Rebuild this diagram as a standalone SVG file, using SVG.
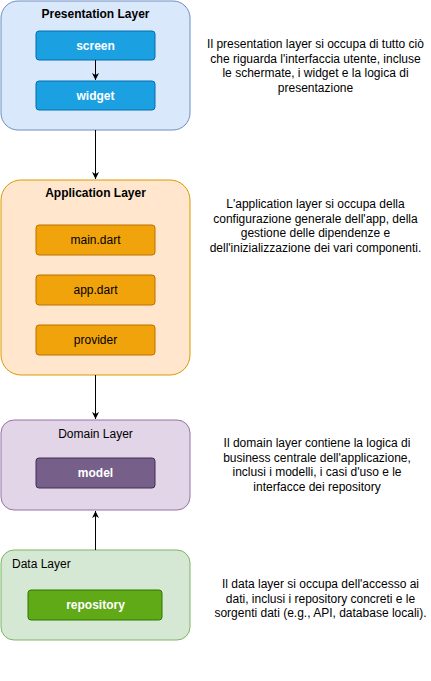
<svg xmlns="http://www.w3.org/2000/svg" width="431" height="681" viewBox="0 0 431 681">
<defs>
<marker id="arr" markerWidth="8" markerHeight="8" refX="7" refY="4" orient="auto" markerUnits="userSpaceOnUse">
<path d="M0,0.5 L7,4 L0,7.5 L2,4 Z" fill="#000"/>
</marker>
</defs>
<style>
text{font-family:"Liberation Sans",Arial,sans-serif;font-size:12px;fill:#000}
.b{font-weight:bold}
.w{fill:#fff;font-weight:bold}
.c{text-anchor:middle}
.conn line{stroke:#000;stroke-width:1;marker-end:url(#arr)}
</style>
<rect width="431" height="681" fill="#fff"/>
<g id="presentation">
<rect x="1" y="1" width="189" height="129" rx="17" fill="#dae8fc" stroke="#6c8ebf"/>
<text x="95.5" y="18" class="b c">Presentation Layer</text>
</g>
<g id="screen">
<rect x="36" y="31" width="119" height="29" rx="3" fill="#1ba1e2" stroke="#006eaf"/>
<text x="95.5" y="49.5" class="w c">screen</text>
</g>
<g id="widget">
<rect x="36" y="81" width="119" height="29" rx="3" fill="#1ba1e2" stroke="#006eaf"/>
<text x="95.5" y="99.5" class="w c">widget</text>
</g>
<g id="application">
<rect x="1" y="180" width="189" height="195" rx="20" fill="#ffe6cc" stroke="#d79b00"/>
<text x="95.5" y="197" class="b c">Application Layer</text>
</g>
<g id="main">
<rect x="36" y="225" width="119" height="30" rx="3" fill="#f0a30a" stroke="#bd7000"/>
<text x="95.5" y="244" class="c">main.dart</text>
</g>
<g id="app">
<rect x="36" y="275" width="119" height="30" rx="3" fill="#f0a30a" stroke="#bd7000"/>
<text x="95.5" y="294" class="c">app.dart</text>
</g>
<g id="provider">
<rect x="36" y="325" width="119" height="30" rx="3" fill="#f0a30a" stroke="#bd7000"/>
<text x="95.5" y="344" class="c">provider</text>
</g>
<g id="domain">
<rect x="1" y="420" width="189" height="90" rx="13" fill="#e1d5e7" stroke="#9673a6"/>
<text x="95.5" y="438" class="c">Domain Layer</text>
</g>
<g id="model">
<rect x="36" y="458" width="119" height="30" rx="3" fill="#76608a" stroke="#432d57"/>
<text x="95.5" y="477" class="w c">model</text>
</g>
<g id="data">
<rect x="1" y="550" width="189" height="90" rx="13" fill="#d5e8d4" stroke="#82b366"/>
<text x="12" y="568">Data Layer</text>
</g>
<g id="repository">
<rect x="28" y="590" width="134" height="30" rx="3" fill="#60a917" stroke="#2d7600"/>
<text x="95.5" y="609" class="w c">repository</text>
</g>
<g id="desc-presentation">
<text x="315.5" class="c"><tspan x="315.5" y="48">Il presentation layer si occupa di tutto ciò</tspan><tspan x="315.5" y="62.5">che riguarda l'interfaccia utente, incluse</tspan><tspan x="315.5" y="77">le schermate, i widget e la logica di</tspan><tspan x="315.5" y="91.5">presentazione</tspan></text>
</g>
<g id="desc-application">
<text x="315.5" class="c"><tspan x="315.5" y="208">L'application layer si occupa della</tspan><tspan x="315.5" y="222.5">configurazione generale dell'app, della</tspan><tspan x="315.5" y="237">gestione delle dipendenze e</tspan><tspan x="315.5" y="251.5">dell'inizializzazione dei vari componenti.</tspan></text>
</g>
<g id="desc-domain">
<text x="317" class="c"><tspan x="317" y="447">Il domain layer contiene la logica di</tspan><tspan x="317" y="461.5">business centrale dell'applicazione,</tspan><tspan x="317" y="476">inclusi i modelli, i casi d'uso e le</tspan><tspan x="317" y="490.5">interfacce dei repository</tspan></text>
</g>
<g id="desc-data">
<text x="320.5" class="c"><tspan x="320.5" y="588">Il data layer si occupa dell'accesso ai</tspan><tspan x="320.5" y="602.5">dati, inclusi i repository concreti e le</tspan><tspan x="320.5" y="617">sorgenti dati (e.g., API, database locali).</tspan></text>
</g>
<g id="connectors" class="conn">
<line x1="95.5" y1="60" x2="95.5" y2="80"/>
<line x1="95.5" y1="130" x2="95.5" y2="179"/>
<line x1="95.5" y1="375" x2="95.5" y2="419"/>
<line x1="95.5" y1="550" x2="95.5" y2="511"/>
</g>
</svg>
